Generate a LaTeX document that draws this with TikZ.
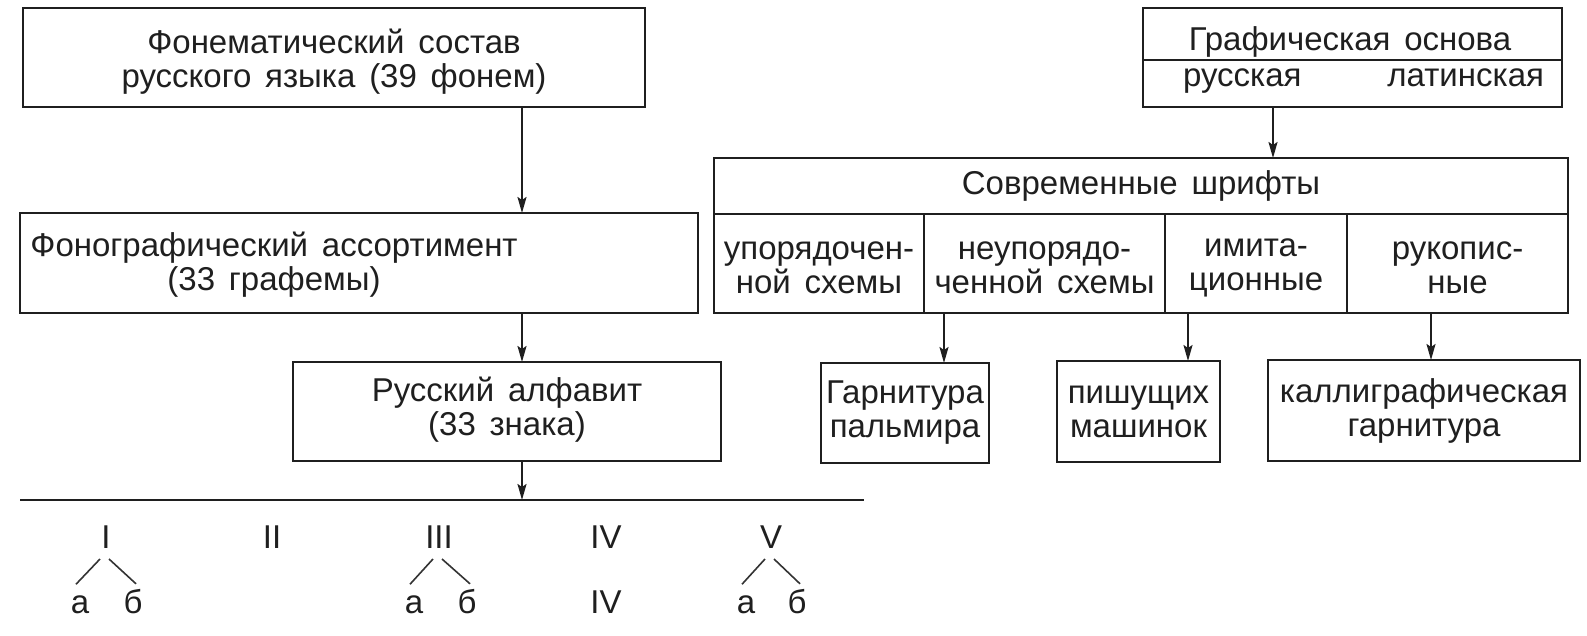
\documentclass[tikz,border=0pt]{standalone}
\usepackage{fontspec}
\setmainfont[WordSpace=1.5]{Liberation Sans}
\usetikzlibrary{arrows.meta,calc}
\begin{document}
\begin{tikzpicture}[x=1pt,y=-1pt,
  box/.style={draw=black!88, line width=2pt, inner sep=0pt, outer sep=0pt, anchor=north west},
  cell/.style={box, align=center, font=\fontsize{33}{34}\selectfont, text=black!88},
  lbl/.style={align=center, inner sep=0pt, outer sep=0pt, font=\fontsize{33}{34}\selectfont, text=black!88},
  num/.style={inner sep=0pt, outer sep=0pt, font=\fontsize{33}{34}\selectfont, text=black!88, anchor=base},
  arr/.style={draw=black!88, line width=2pt, -{Stealth[length=16pt,width=9pt,inset=3pt]}},
  ln/.style={draw=black!88, line width=2pt},
  br/.style={draw=black!80, line width=1.6pt}]
\fill[white] (0,0) rectangle (1587,635);
\useasboundingbox (0,0) rectangle (1587,635);

% ---------- left column ----------
\node[box, minimum width=622pt, minimum height=99pt] (A) at (23,8) {};
\node[lbl] (At) at (334,62) {Фонематический состав\\русского языка (39 фонем)};
\node[box, minimum width=678pt, minimum height=100pt] (B) at (20,213) {};
\node[lbl] (Bt) at (274,265) {Фонографический ассортимент\\(33 графемы)};
\node[box, minimum width=428pt, minimum height=99pt] (R) at (293,362) {};
\node[lbl] (Rt) at (507,410) {Русский алфавит\\(33 знака)};
\coordinate (xa) at (522,0);
\draw[arr] (A.south -| xa) -- (B.north -| xa);
\draw[arr] (B.south -| xa) -- (R.north -| xa);
\coordinate (L1) at (20,500);
\coordinate (L2) at (864,500);
\draw[ln] (L1) -- (L2);
\draw[arr] (R.south -| xa) -- (L1 -| xa);

% ---------- classes ----------
\node[num] (n1) at (106,548) {I};
\node[num] (n2) at (272,548) {II};
\node[num] (n3) at (439,548) {III};
\node[num] (n4) at (606,548) {IV};
\node[num] (n5) at (771,548) {V};
\node[num] (a1) at (80,613) {а};
\node[num] (b1) at (133,613) {б};
\node[num] (a3) at (414,613) {а};
\node[num] (b3) at (467,613) {б};
\node[num] (n4b) at (606,613) {IV};
\node[num] (a5) at (746,613) {а};
\node[num] (b5) at (797,613) {б};
\foreach \t/\a/\b in {n1/a1/b1, n3/a3/b3, n5/a5/b5}{
  \draw[br] ([shift={(-6,11)}]\t.south) -- ([shift={(-4,-11)}]\a.north);
  \draw[br] ([shift={(3,11)}]\t.south) -- ([shift={(3,-5)}]\b.north);
}

% ---------- right column ----------
\node[box, minimum width=419pt, minimum height=52pt] (G1) at (1143,8) {};
\node[box, minimum width=419pt, minimum height=47pt] (G2) at (1143,60) {};
\node[num] (G1t) at (1350,50) {Графическая основа};
\node[num, anchor=base west] (G2a) at (1183,86) {русская};
\node[num, anchor=base east] (G2b) at (1544,86) {латинская};

\node[cell, minimum width=854pt, minimum height=56pt] (S0) at (714,158) {Современные шрифты};
\node[box, minimum width=210pt, minimum height=99pt] (c1) at (714,214) {};
\node[box, minimum width=241pt, minimum height=99pt] (c2) at (924,214) {};
\node[box, minimum width=182pt, minimum height=99pt] (c3) at (1165,214) {};
\node[box, minimum width=221pt, minimum height=99pt] (c4) at (1347,214) {};
\node[lbl] (c1t) at ([yshift=-4pt]c1.center) {упорядочен-\\ной схемы};
\node[lbl] (c2t) at ([yshift=-4pt]c2.center) {неупорядо-\\ченной схемы};
\node[lbl] (c3t) at ([yshift=-4pt]c3.center) {имита-\\ционные};
\node[lbl] (c4t) at ([yshift=-4pt]c4.center) {рукопис-\\ные};
\coordinate (xg) at (1273,0);
\draw[arr] (G2.south -| xg) -- (S0.north -| xg);

\node[cell, minimum width=168pt, minimum height=100pt] (P) at (821,363) {Гарнитура\\пальмира};
\node[cell, minimum width=163pt, minimum height=101pt] (M) at (1057,361) {пишущих\\машинок};
\node[cell, minimum width=312pt, minimum height=101pt] (K) at (1268,360) {каллиграфическая\\гарнитура};
\coordinate (xp) at (944,0);
\coordinate (xm) at (1188,0);
\coordinate (xk) at (1431,0);
\draw[arr] (c2.south -| xp) -- (P.north -| xp);
\draw[arr] (c3.south -| xm) -- (M.north -| xm);
\draw[arr] (c4.south -| xk) -- (K.north -| xk);
\end{tikzpicture}
\end{document}
